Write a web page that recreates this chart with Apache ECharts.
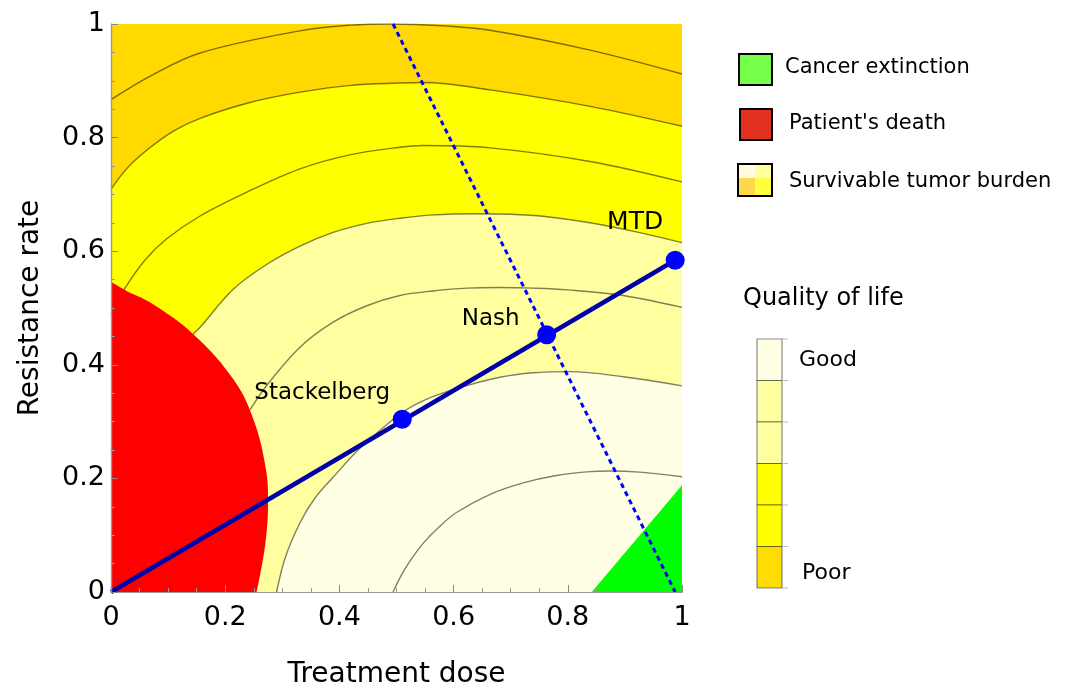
<!DOCTYPE html>
<html><head><meta charset="utf-8">
<script src="https://cdn.jsdelivr.net/npm/echarts@6/dist/echarts.min.js"></script>
<style>html,body{margin:0;padding:0;background:#fff}#c{width:1068px;height:694px}</style>
</head><body><div id="c"></div>
<script>
// ---- data ----
const xTickLabels = ['0','0.2','0.4','0.6','0.8','1'];
const yTickLabels = ['0','0.2','0.4','0.6','0.8','1'];

// contour lines (treatment dose, resistance rate), outermost first
const contour1 = [[0,0.867],[0.068,0.908],[0.156,0.949],[0.331,0.988],[0.42,0.998],[0.489,1.0],[0.58,0.997],[0.664,0.989],[0.839,0.954],[1.0,0.912]];
const contour2 = [[0,0.709],[0.03,0.748],[0.068,0.782],[0.11,0.812],[0.156,0.834],[0.24,0.861],[0.331,0.880],[0.42,0.892],[0.506,0.896],[0.547,0.897],[0.664,0.884],[0.839,0.855],[1.0,0.82]];
const contour3 = [[0,0.49],[0.0245,0.535],[0.06,0.585],[0.0975,0.622],[0.156,0.662],[0.238,0.704],[0.331,0.745],[0.42,0.77],[0.506,0.783],[0.547,0.786],[0.664,0.782],[0.839,0.758],[1.0,0.722]];
const contour4 = [[0,0.25],[0.05,0.33],[0.1,0.40],[0.144,0.454],[0.156,0.466],[0.214,0.533],[0.273,0.577],[0.331,0.609],[0.389,0.633],[0.448,0.649],[0.506,0.658],[0.564,0.664],[0.64,0.666],[0.70,0.665],[0.76,0.661],[0.839,0.650],[0.92,0.634],[1.0,0.615]];
const contour5 = [[0.2,0.25],[0.243,0.32],[0.273,0.364],[0.331,0.431],[0.389,0.475],[0.448,0.504],[0.506,0.522],[0.564,0.530],[0.623,0.535],[0.681,0.536],[0.739,0.535],[0.80,0.532],[0.897,0.522],[1.0,0.501]];
const contour6 = [[0.29,0],[0.305,0.06],[0.331,0.122],[0.357,0.165],[0.389,0.202],[0.436,0.253],[0.506,0.313],[0.547,0.337],[0.605,0.358],[0.681,0.378],[0.739,0.386],[0.804,0.388],[0.897,0.379],[1.0,0.363]];
const contour7 = [[0.494,0],[0.506,0.025],[0.522,0.052],[0.547,0.086],[0.575,0.115],[0.605,0.140],[0.664,0.172],[0.722,0.192],[0.78,0.205],[0.839,0.212],[0.874,0.213],[0.926,0.211],[1.0,0.203]];

const deathRegion = [[0,0.546],[0.0275,0.530],[0.068,0.51],[0.144,0.454],[0.214,0.375],[0.249,0.305],[0.271,0.218],[0.275,0.159],[0.27,0.083],[0.255,0]];
const extinctionRegion = [[0.842,0],[1.0,0.188]];

const bestResponse = [[0.494,1],[0.988,0]];
const strategyLine = [[0,0],[0.988,0.584]];

const eqNames = ['Stackelberg','Nash','MTD'];
const eqDose = [0.510,0.763,0.988];
const eqRes = [0.304,0.453,0.584];

const legendItems = ['Cancer extinction', "Patient's death", 'Survivable tumor burden'];
const qolTitle = 'Quality of life';
const qolLabels = ['Good','Poor'];

// ---- styles ----
const FONT = '"DejaVu Sans", sans-serif';
const C_GOLD = '#FFD900', C_YEL = '#FFFF00', C_LIGHT = '#FFFFA0', C_PALE = '#FFFFE4';
const LINE = 'rgba(0,0,0,0.5)';
const qolColors = ['#FFFFE6','#FFFFA0','#FFFFA0','#FFFF00','#FFFF00','#FFDD00'];

function contour(data, fill, z) {
  const s = {type:'line', data:data, smooth:0.35, symbol:'none', silent:true, z:z,
    lineStyle:{color:LINE, width:1.4}};
  if (fill) s.areaStyle = {color:fill, opacity:1};
  return s;
}

const eqData = eqNames.map((n,i)=>({name:n, value:[eqDose[i], eqRes[i]]}));
const labelOffsets = [[-80,-26],[-56,-16],[-40,-38]];
const labelSizes = [23,23,25];
eqData.forEach((d,i)=>{ d.label = {offset:labelOffsets[i], fontSize:labelSizes[i]}; });

const chart = echarts.init(document.getElementById('c'), null, {renderer:'canvas'});

const tickAxisCommon = {
  type:'value', min:0, max:1, interval:0.2, z:20,
  axisLine:{show:true, lineStyle:{color:'#9a9a9a', width:1.2}},
  axisTick:{show:true, inside:true, length:7, lineStyle:{color:'#888', width:1}},
  minorTick:{show:true, splitNumber:4, length:4, lineStyle:{color:'#999', width:1}},
  splitLine:{show:false}, minorSplitLine:{show:false}
};
function idxLabel(arr){ return function(v){ return arr[Math.round(v/0.2)]; }; }

const option = {
  animation:false,
  grid:{left:111, top:24, width:571, height:570, show:true, backgroundColor:C_GOLD, borderWidth:0},
  xAxis:[
    Object.assign({}, tickAxisCommon, {position:'bottom',
      name:'Treatment dose', nameLocation:'middle', nameGap:69,
      nameTextStyle:{fontFamily:FONT, fontSize:28, color:'#000'},
      axisLabel:{margin:12, fontFamily:FONT, fontSize:27, color:'#000', formatter:idxLabel(xTickLabels)}}),
    Object.assign({}, tickAxisCommon, {position:'top', axisTick:{show:false}, minorTick:{show:false}, axisLabel:{show:false}})
  ],
  yAxis:[
    Object.assign({}, tickAxisCommon, {position:'left',
      name:'Resistance rate', nameLocation:'middle', nameGap:66,
      nameTextStyle:{fontFamily:FONT, fontSize:28, color:'#000'},
      axisLabel:{margin:6, fontFamily:FONT, fontSize:27, color:'#000', formatter:idxLabel(yTickLabels)}}),
    Object.assign({}, tickAxisCommon, {position:'right', axisTick:{show:false}, minorTick:{show:false}, axisLabel:{show:false}})
  ],
  series:[
    contour(contour2, C_YEL, 2),
    contour(contour4, C_LIGHT, 3),
    contour(contour6, C_PALE, 4),
    contour(contour1, null, 5),
    contour(contour3, null, 5),
    contour(contour5, null, 5),
    contour(contour7, null, 5),
    {type:'line', data:deathRegion, smooth:0.4, symbol:'none', silent:true, z:6,
      lineStyle:{opacity:0, width:0}, areaStyle:{color:'#FF0000', opacity:1}},
    {type:'line', data:extinctionRegion, symbol:'none', silent:true, z:6,
      lineStyle:{opacity:0, width:0}, areaStyle:{color:'#00FF00', opacity:1}},
    {type:'line', data:bestResponse, symbol:'none', silent:true, z:7,
      lineStyle:{color:'#0000FF', width:3, type:[5,4]}},
    {type:'line', data:strategyLine, symbol:'none', silent:true, z:8,
      lineStyle:{color:'#0000A8', width:4.5}},
    {type:'scatter', data:eqData, symbol:'circle', symbolSize:19, silent:true, z:9,
      itemStyle:{color:'#0000FF', opacity:1},
      label:{show:true, position:'inside', formatter:'{b}', fontFamily:FONT, color:'#000', opacity:1}}
  ],
  graphic:[
    {type:'rect', shape:{x:739,y:54,width:33,height:31}, style:{fill:'#77FF4A', stroke:'#000', lineWidth:2}},
    {type:'text', x:785, y:68, style:{text:legendItems[0], font:'21px '+FONT, fill:'#000', verticalAlign:'middle', textVerticalAlign:'middle'}},
    {type:'rect', shape:{x:740,y:109,width:32,height:31}, style:{fill:'#E2321F', stroke:'#000', lineWidth:2}},
    {type:'text', x:789, y:124, style:{text:legendItems[1], font:'21px '+FONT, fill:'#000', verticalAlign:'middle', textVerticalAlign:'middle'}},
    {type:'rect', shape:{x:738,y:164,width:17,height:14}, style:{fill:'#FFFCE0'}},
    {type:'rect', shape:{x:755,y:164,width:17,height:14}, style:{fill:'#FFFF9C'}},
    {type:'rect', shape:{x:738,y:178,width:17,height:18}, style:{fill:'#FFD84A'}},
    {type:'rect', shape:{x:755,y:178,width:17,height:18}, style:{fill:'#FFFF40'}},
    {type:'rect', shape:{x:738,y:164,width:34,height:32}, style:{fill:null, stroke:'#000', lineWidth:2}},
    {type:'text', x:789, y:182, style:{text:legendItems[2], font:'21px '+FONT, fill:'#000', verticalAlign:'middle', textVerticalAlign:'middle'}},
    {type:'text', x:743, y:299, style:{text:qolTitle, font:'24px '+FONT, fill:'#000', verticalAlign:'middle', textVerticalAlign:'middle'}},
  ].concat(
    qolColors.map((c,i)=>({type:'rect', shape:{x:757, y:339+i*41.5, width:25, height:41.5},
      style:{fill:c, stroke:'rgba(0,0,0,0.45)', lineWidth:1.2}})),
    [0,1,2,3,4,5,6].map(i=>({type:'line', shape:{x1:782, y1:339+i*41.5, x2:788, y2:339+i*41.5},
      style:{stroke:'#bbb', lineWidth:1}})),
    [
      {type:'text', x:799, y:360, style:{text:qolLabels[0], font:'22px '+FONT, fill:'#000', verticalAlign:'middle', textVerticalAlign:'middle'}},
      {type:'text', x:802, y:573, style:{text:qolLabels[1], font:'22px '+FONT, fill:'#000', verticalAlign:'middle', textVerticalAlign:'middle'}}
    ]
  )
};
chart.setOption(option);
</script>
</body></html>
